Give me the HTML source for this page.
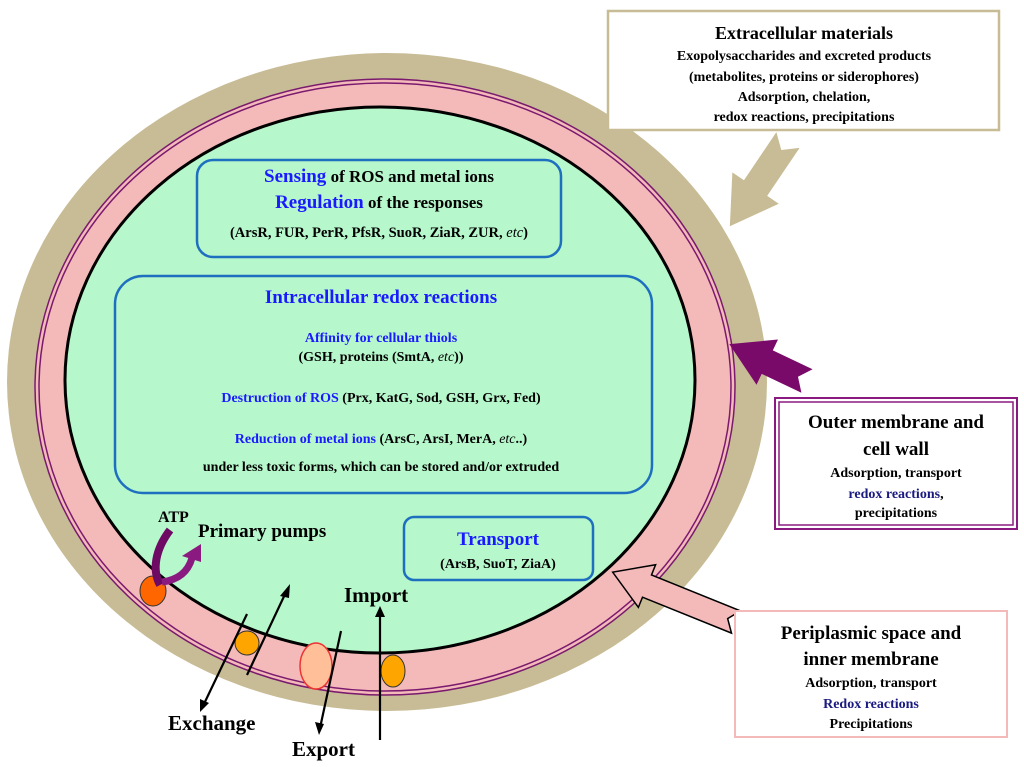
<!DOCTYPE html>
<html><head><meta charset="utf-8"><style>
html,body{margin:0;padding:0;background:#fff}
svg{display:block}
text{font-family:"Liberation Serif",serif;font-weight:bold}
</style></head><body>
<svg width="1024" height="767" viewBox="0 0 1024 767" xmlns="http://www.w3.org/2000/svg">
<ellipse cx="387" cy="382" rx="380" ry="329" fill="#c8bc96"/>
<ellipse cx="385" cy="387" rx="350" ry="308" fill="#f4baba" stroke="#7a1a6e" stroke-width="1.5"/>
<ellipse cx="385" cy="387" rx="346" ry="304" fill="none" stroke="#7a1a6e" stroke-width="1.5"/>
<ellipse cx="380" cy="380" rx="315" ry="273" fill="#b6f7cb" stroke="#000" stroke-width="3"/>

<rect x="197" y="160" width="364" height="97" rx="16" fill="#b6f7cb" stroke="#1f6fc0" stroke-width="2.5"/>
<text x="379" y="182" text-anchor="middle" font-size="17"><tspan fill="#1a1aff" font-size="19">Sensing</tspan> of ROS and metal ions</text>
<text x="379" y="208" text-anchor="middle" font-size="17"><tspan fill="#1a1aff" font-size="19">Regulation</tspan> of the responses</text>
<text x="379" y="237" text-anchor="middle" font-size="14.5">(ArsR, FUR, PerR, PfsR, SuoR, ZiaR, ZUR, <tspan font-style="italic" font-weight="normal">etc</tspan>)</text>

<rect x="115" y="276" width="537" height="217" rx="28" fill="#b6f7cb" stroke="#1f6fc0" stroke-width="2.5"/>
<text x="381" y="303" text-anchor="middle" font-size="19" fill="#1a1aff">Intracellular redox reactions</text>
<text x="381" y="342" text-anchor="middle" font-size="14" fill="#1a1aff">Affinity for cellular thiols</text>
<text x="381" y="361" text-anchor="middle" font-size="14">(GSH, proteins (SmtA, <tspan font-style="italic" font-weight="normal">etc</tspan>))</text>
<text x="381" y="402" text-anchor="middle" font-size="14"><tspan fill="#1a1aff">Destruction of ROS</tspan> (Prx, KatG, Sod, GSH, Grx, Fed)</text>
<text x="381" y="443" text-anchor="middle" font-size="14"><tspan fill="#1a1aff">Reduction of metal ions</tspan> (ArsC, ArsI, MerA, <tspan font-style="italic" font-weight="normal">etc</tspan>..)</text>
<text x="381" y="471" text-anchor="middle" font-size="14">under less toxic forms,  which can be stored and/or extruded</text>

<rect x="404" y="517" width="189" height="63" rx="10" fill="#b6f7cb" stroke="#1f6fc0" stroke-width="2.5"/>
<text x="498" y="545" text-anchor="middle" font-size="19" fill="#1a1aff">Transport</text>
<text x="498" y="568" text-anchor="middle" font-size="14">(ArsB, SuoT, ZiaA)</text>

<ellipse cx="153" cy="591" rx="13" ry="15" fill="#ff6600" stroke="#333" stroke-width="1"/>
<ellipse cx="247" cy="643" rx="12" ry="12" fill="#ffa500" stroke="#333" stroke-width="1"/>
<ellipse cx="316" cy="666" rx="16" ry="23" fill="#ffbf99" stroke="#ee3333" stroke-width="1.5"/>
<ellipse cx="393" cy="671" rx="12" ry="16" fill="#ffa500" stroke="#333" stroke-width="1"/>

<path d="M170 530 C155 550,152 570,160 585" fill="none" stroke="#6e0a64" stroke-width="8"/>
<path d="M162 582 C178 580,188 572,192 558" fill="none" stroke="#8a1a80" stroke-width="7"/>
<polygon points="201,544 182,556 201,562" fill="#8a1a80"/>
<text x="158" y="522" font-size="16">ATP</text>
<text x="198" y="537" font-size="19">Primary pumps</text>

<g stroke="#000" stroke-width="2.2" fill="#000">
<line x1="247" y1="675" x2="287" y2="590"/>
<polygon points="290,584 280,596 289,598" stroke="none"/>
<line x1="247" y1="614" x2="203" y2="706"/>
<polygon points="200,712 200,699 209,703" stroke="none"/>
<line x1="341" y1="631" x2="320" y2="728"/>
<polygon points="319,735 315,722 324,724" stroke="none"/>
<line x1="380" y1="740" x2="380" y2="612"/>
<polygon points="380,606 375,617 385,617" stroke="none"/>
</g>
<text x="344" y="602" font-size="21">Import</text>
<text x="168" y="730" font-size="21">Exchange</text>
<text x="292" y="756" font-size="21">Export</text>

<polygon transform="translate(788,140) rotate(124)" points="0,-14 58,-14 58,-28 104,0 58,28 58,14 0,14 12,0" fill="#c8bc96"/>
<polygon transform="translate(807,381) rotate(205.4)" points="0,-13 44,-13 44,-25 86,0 44,25 44,13 0,13 10,0" fill="#7a0a6a"/>
<polygon transform="translate(736,622) rotate(202)" points="0,-12 96,-12 96,-23 133,0 96,23 96,12 0,12 9,0" fill="#f4baba" stroke="#000" stroke-width="1.5"/>

<rect x="608" y="11" width="391" height="119" fill="#fff" stroke="#c8bc96" stroke-width="2.5"/>
<text x="804" y="39" text-anchor="middle" font-size="18">Extracellular materials</text>
<text x="804" y="60" text-anchor="middle" font-size="14">Exopolysaccharides and excreted products</text>
<text x="804" y="81" text-anchor="middle" font-size="14">(metabolites, proteins or siderophores)</text>
<text x="804" y="101" text-anchor="middle" font-size="14">Adsorption, chelation,</text>
<text x="804" y="121" text-anchor="middle" font-size="14">redox reactions, precipitations</text>

<rect x="775" y="398" width="242" height="131" fill="#fff" stroke="#8a1a80" stroke-width="2"/>
<rect x="779" y="402" width="234" height="123" fill="none" stroke="#8a1a80" stroke-width="1.5"/>
<text x="896" y="428" text-anchor="middle" font-size="19">Outer membrane and</text>
<text x="896" y="455" text-anchor="middle" font-size="19">cell wall</text>
<text x="896" y="477" text-anchor="middle" font-size="14">Adsorption, transport</text>
<text x="896" y="498" text-anchor="middle" font-size="14"><tspan fill="#1a1a80">redox reactions</tspan>,</text>
<text x="896" y="517" text-anchor="middle" font-size="14">precipitations</text>

<rect x="735" y="611" width="272" height="126" fill="#fff" stroke="#f4baba" stroke-width="2"/>
<text x="871" y="639" text-anchor="middle" font-size="19">Periplasmic space and</text>
<text x="871" y="665" text-anchor="middle" font-size="19">inner membrane</text>
<text x="871" y="687" text-anchor="middle" font-size="14">Adsorption, transport</text>
<text x="871" y="708" text-anchor="middle" font-size="14" fill="#1a1a80">Redox reactions</text>
<text x="871" y="728" text-anchor="middle" font-size="14">Precipitations</text>
</svg>
</body></html>
